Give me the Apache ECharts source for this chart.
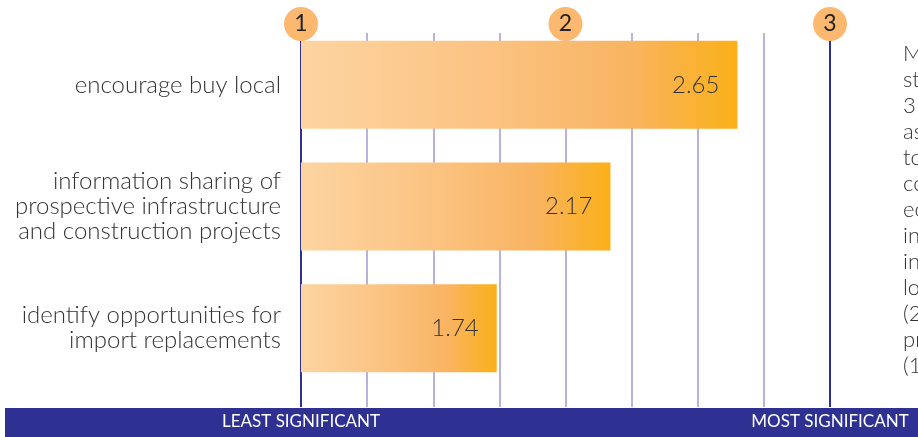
<!DOCTYPE html>
<html>
<head>
<meta charset="utf-8">
<script src="https://cdn.jsdelivr.net/npm/echarts@6/dist/echarts.min.js"></script>
<style>
html,body{margin:0;padding:0;background:#fff;}
#chart{width:918px;height:437px;}
</style>
</head>
<body>
<div id="chart"></div>
<script>
// ---- data ----
const categories = [
  'encourage buy local',
  'information sharing of\nprospective infrastructure\nand construction projects',
  'identify opportunities for\nimport replacements'
];
const values = [2.65, 2.17, 1.74];
const topTickLabels = { 1: '1', 2: '2', 3: '3' };
const bottomTickLabels = { 1: 'LEAST SIGNIFICANT', 3: 'MOST SIGNIFICANT' };
const sideTextLines = ['Mean', 'strategy', '3', 'as', 'to', 'co', 'economic', 'in', 'in', 'local', '(2.65)', 'projects', '(1.74)'];

// ---- styles ----
const NAVY = '#2e3192';
const LAV = '#b7b2de';
const FONT = 'Lato, "Noto Sans", sans-serif';

const chart = echarts.init(document.getElementById('chart'), null, { renderer: 'canvas' });

const barGradient = new echarts.graphic.LinearGradient(0, 0, 1, 0, [
  { offset: 0, color: '#fdd4a1' },
  { offset: 0.45, color: '#fbc280' },
  { offset: 0.75, color: '#f9b462' },
  { offset: 1, color: '#fbb018' }
]);

const option = {
  backgroundColor: '#fff',
  animation: false,
  grid: [
    { left: 301, right: 88, top: 24, bottom: 48 },
    { left: 301, right: 88, top: 33, bottom: 30 }
  ],
  xAxis: [
    { gridIndex: 0, type: 'value', min: 1, max: 3, interval: 0.25, show: false },
    {
      gridIndex: 1, type: 'value', min: 1, max: 3, interval: 0.25, position: 'top',
      axisLine: { show: false }, axisTick: { show: false }, axisLabel: { show: false },
      splitLine: { show: true, lineStyle: { width: 2, color: [NAVY, LAV, LAV, LAV, LAV, LAV, LAV, LAV, NAVY] } },
      z: 0
    },
    {
      gridIndex: 1, type: 'value', min: 1, max: 3, interval: 0.25, position: 'top',
      axisLine: { show: false }, axisTick: { show: false }, splitLine: { show: false },
      axisLabel: {
        show: true, margin: -8, showMinLabel: true, showMaxLabel: true,
        formatter: v => topTickLabels[v] ? '{c|' + topTickLabels[v] + '}' : '',
        rich: {
          c: {
            width: 34, height: 34, borderRadius: 17, backgroundColor: '#fdb86f',
            align: 'center', verticalAlign: 'middle', lineHeight: 34,
            fontSize: 23, color: '#222', fontFamily: FONT, fontWeight: 400
          }
        }
      },
      z: 10
    },
    {
      gridIndex: 1, type: 'value', min: 1, max: 3, interval: 0.25, position: 'bottom',
      axisLine: { show: false }, axisTick: { show: false }, splitLine: { show: false },
      axisLabel: {
        show: true, margin: 6, showMinLabel: true, showMaxLabel: true,
        formatter: v => bottomTickLabels[v] || '',
        color: '#ffffff', fontSize: 17, fontFamily: FONT, fontWeight: 400
      },
      z: 10
    }
  ],
  yAxis: [
    {
      gridIndex: 0, type: 'category', data: categories, inverse: true,
      axisLine: { show: false }, axisTick: { show: false }, splitLine: { show: false },
      axisLabel: {
        margin: 20, fontSize: 24, lineHeight: 25, color: '#333',
        fontFamily: FONT, fontWeight: 300, align: 'right'
      }
    },
    { gridIndex: 1, type: 'value', show: false, min: 0, max: 1 }
  ],
  series: [
    {
      type: 'bar', xAxisIndex: 0, yAxisIndex: 0,
      data: values, barWidth: 88,
      itemStyle: { color: barGradient },
      label: {
        show: true, position: 'insideRight', distance: 18,
        formatter: p => p.value.toFixed(2),
        fontSize: 24, color: '#333', fontFamily: FONT, fontWeight: 300
      },
      markLine: {
        silent: true, symbol: 'none', animation: false,
        label: { show: false },
        lineStyle: { color: NAVY, width: 2, type: 'solid' },
        data: [{ xAxis: 1 }]
      },
      z: 5
    }
  ],
  graphic: [
    {
      type: 'rect', z: -10, silent: true,
      shape: { x: 5, y: 408, width: 913, height: 29 },
      style: { fill: NAVY }
    },
    {
      type: 'text', left: 903, top: 41, silent: true,
      style: {
        text: sideTextLines.join('\n'),
        fontSize: 22, lineHeight: 26, fill: '#333', fontFamily: FONT, fontWeight: 300
      }
    }
  ]
};

chart.setOption(option);
</script>
</body>
</html>
